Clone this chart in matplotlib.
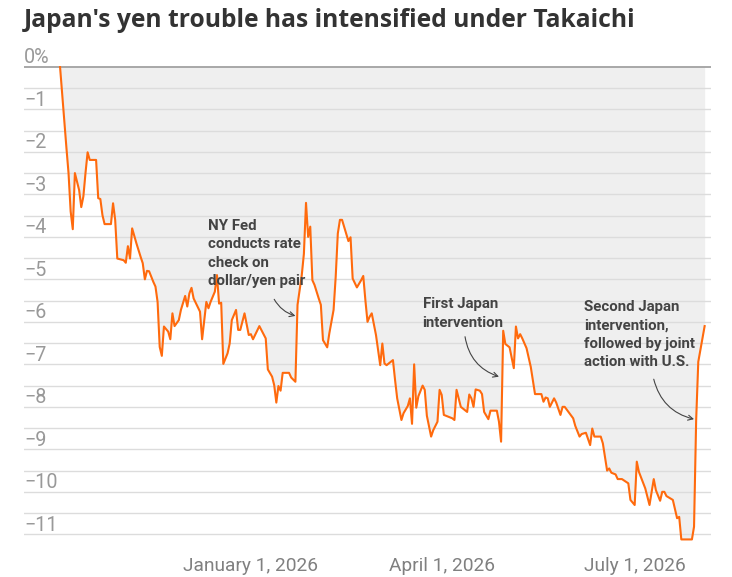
import matplotlib
matplotlib.use("Agg")
import matplotlib.pyplot as plt
import matplotlib.transforms as mtransforms
import pandas as pd
import numpy as np

# yen vs dollar, % change since Takaichi won the LDP leadership
dates = [
    "2025-10-03", "2025-10-06", "2025-10-07", "2025-10-08", "2025-10-09", "2025-10-10",
    "2025-10-12", "2025-10-13", "2025-10-14", "2025-10-15", "2025-10-16", "2025-10-17",
    "2025-10-20", "2025-10-21", "2025-10-22", "2025-10-23", "2025-10-24", "2025-10-27",
    "2025-10-28", "2025-10-29", "2025-10-30", "2025-11-02", "2025-11-03", "2025-11-04",
    "2025-11-05", "2025-11-06", "2025-11-08", "2025-11-10", "2025-11-11", "2025-11-12",
    "2025-11-13", "2025-11-14", "2025-11-16", "2025-11-17", "2025-11-18", "2025-11-19",
    "2025-11-20", "2025-11-21", "2025-11-23", "2025-11-24", "2025-11-25", "2025-11-26",
    "2025-11-28", "2025-11-29", "2025-12-01", "2025-12-02", "2025-12-03", "2025-12-04",
    "2025-12-05", "2025-12-08", "2025-12-09", "2025-12-11", "2025-12-12", "2025-12-13",
    "2025-12-15", "2025-12-16", "2025-12-17", "2025-12-18", "2025-12-19", "2025-12-21",
    "2025-12-22", "2025-12-23", "2025-12-25", "2025-12-26", "2025-12-27", "2025-12-29",
    "2025-12-31", "2026-01-01", "2026-01-02", "2026-01-05", "2026-01-08", "2026-01-09",
    "2026-01-11", "2026-01-12", "2026-01-13", "2026-01-14", "2026-01-15", "2026-01-16",
    "2026-01-19", "2026-01-20", "2026-01-22", "2026-01-23", "2026-01-24", "2026-01-25",
    "2026-01-26", "2026-01-27", "2026-01-28", "2026-01-29", "2026-01-30", "2026-01-31",
    "2026-02-02", "2026-02-03", "2026-02-04", "2026-02-06", "2026-02-07", "2026-02-09",
    "2026-02-10", "2026-02-11", "2026-02-12", "2026-02-13", "2026-02-16", "2026-02-17",
    "2026-02-18", "2026-02-20", "2026-02-22", "2026-02-23", "2026-02-24", "2026-02-25",
    "2026-02-26", "2026-02-27", "2026-03-01", "2026-03-03", "2026-03-04", "2026-03-05",
    "2026-03-06", "2026-03-09", "2026-03-10", "2026-03-11", "2026-03-13", "2026-03-14",
    "2026-03-16", "2026-03-17", "2026-03-18", "2026-03-19", "2026-03-20", "2026-03-21",
    "2026-03-23", "2026-03-24", "2026-03-25", "2026-03-27", "2026-03-28", "2026-03-30",
    "2026-03-31", "2026-04-01", "2026-04-02", "2026-04-06", "2026-04-07", "2026-04-08",
    "2026-04-10", "2026-04-12", "2026-04-13", "2026-04-14", "2026-04-15", "2026-04-16",
    "2026-04-17", "2026-04-19", "2026-04-20", "2026-04-21", "2026-04-23", "2026-04-24",
    "2026-04-27", "2026-04-28", "2026-04-29", "2026-04-30", "2026-05-01", "2026-05-03",
    "2026-05-05", "2026-05-06", "2026-05-07", "2026-05-08", "2026-05-09", "2026-05-11",
    "2026-05-13", "2026-05-15", "2026-05-18", "2026-05-19", "2026-05-20", "2026-05-21",
    "2026-05-22", "2026-05-24", "2026-05-25", "2026-05-27", "2026-05-28", "2026-05-29",
    "2026-06-02", "2026-06-03", "2026-06-05", "2026-06-06", "2026-06-08", "2026-06-10",
    "2026-06-11", "2026-06-12", "2026-06-15", "2026-06-16", "2026-06-18", "2026-06-19",
    "2026-06-20", "2026-06-22", "2026-06-23", "2026-06-25", "2026-06-28", "2026-06-29",
    "2026-07-01", "2026-07-02", "2026-07-03", "2026-07-06", "2026-07-08", "2026-07-10",
    "2026-07-11", "2026-07-13", "2026-07-14", "2026-07-15", "2026-07-16", "2026-07-19",
    "2026-07-21", "2026-07-22", "2026-07-23", "2026-07-28", "2026-07-29", "2026-07-30",
    "2026-07-31", "2026-08-01", "2026-08-03",
]
pct = [
    0.0, -1.9, -2.5, -3.4, -3.82, -2.5,
    -2.9, -3.3, -3.05, -2.5, -2.01, -2.19,
    -2.19, -3.09, -3.11, -3.49, -3.70, -3.70,
    -3.21, -3.6, -4.51, -4.55, -4.61, -4.22,
    -4.51, -3.80, -4.15, -4.47, -4.62, -5.0,
    -4.80, -4.81, -5.06, -5.17, -5.53, -6.59,
    -6.80, -6.11, -6.23, -6.41, -5.80, -6.10,
    -5.96, -5.72, -5.39, -5.64, -5.33, -5.20,
    -5.45, -5.76, -6.41, -5.53, -5.68, -5.53,
    -5.29, -4.90, -5.57, -5.55, -6.99, -6.74,
    -6.51, -5.96, -5.72, -6.19, -6.19, -5.80,
    -6.31, -6.29, -6.41, -6.10, -6.39, -7.12,
    -7.29, -7.49, -7.90, -7.51, -7.62, -7.20,
    -7.20, -7.31, -7.41, -5.6, -5.25, -4.9,
    -4.4, -3.20, -4.0, -3.76, -5.02, -5.13,
    -5.45, -5.60, -6.43, -6.60, -6.27, -5.72,
    -4.94, -3.92, -3.60, -3.60, -4.10, -4.01,
    -4.98, -5.19, -5.02, -4.92, -5.49, -6.0,
    -5.88, -5.80, -6.31, -7.02, -6.51, -6.98,
    -7.02, -6.90, -7.37, -7.80, -8.31, -8.15,
    -7.98, -7.80, -8.40, -7.0, -8.02, -7.75,
    -7.50, -7.60, -8.21, -8.70, -8.55, -8.35,
    -7.60, -7.72, -8.19, -8.27, -8.31, -7.60,
    -8.0, -8.08, -8.12, -7.71, -7.80, -8.0,
    -7.59, -7.62, -7.70, -8.12, -8.29, -8.09,
    -8.09, -8.35, -8.82, -6.21, -6.52, -6.60,
    -7.09, -6.11, -6.39, -6.29, -6.39, -6.62,
    -7.06, -7.70, -7.70, -7.88, -7.78, -7.80,
    -8.0, -7.80, -7.90, -8.19, -8.0, -8.0,
    -8.27, -8.45, -8.70, -8.64, -8.61, -8.90,
    -8.51, -8.70, -8.70, -8.86, -9.50, -9.45,
    -9.55, -9.59, -9.70, -9.70, -9.80, -10.19,
    -10.31, -9.29, -9.53, -9.92, -10.31, -9.70,
    -9.96, -10.21, -10.0, -10.0, -10.10, -10.19,
    -10.62, -10.59, -11.12, -11.12, -10.82, -8.31,
    -6.94, -6.66, -6.10,
]

tick_dates = ["2026-01-01", "2026-04-01", "2026-07-01"]
tick_labels = ["January 1, 2026", "April 1, 2026", "July 1, 2026"]
y_labels = [0, -1, -2, -3, -4, -5, -6, -7, -8, -9, -10, -11]

x = pd.to_datetime(dates)

plt.rcParams['font.family'] = ['Roboto', 'DejaVu Sans']

fig = plt.figure(figsize=(7.32, 5.77), dpi=100)
ax = fig.add_axes([24 / 732, 0.0629, 687 / 732, 0.8227])

ax.fill_between(x, pct, 0, color="#efefef", lw=0, zorder=1)
for v in np.arange(-11, 0.01, 0.5):
    if v == 0:
        ax.axhline(v, color="#9a9a9a", lw=1.2, zorder=2)
    else:
        ax.axhline(v, color="#dcdcdc", lw=1.0, zorder=2)
ax.plot(x, pct, color="#ff6a0d", lw=1.5, zorder=4)

ax.set_xlim(pd.Timestamp("2025-09-16"), pd.Timestamp("2026-08-06"))
ax.set_ylim(-11.15, 0.02)
for s in ax.spines.values():
    s.set_visible(False)
ax.set_yticks([])
ax.set_xticks(pd.to_datetime(tick_dates))
ax.set_xticklabels(tick_labels, fontsize=13.8, color="#808080")
ax.tick_params(axis="x", length=0, pad=12)

# y labels sit just above their gridlines
trans = mtransforms.blended_transform_factory(ax.transAxes, ax.transData)
for v in y_labels:
    lab = "0%" if v == 0 else "\u2212" + str(abs(v))
    ax.text(0, v + 0.08, lab, transform=trans, ha="left", va="baseline",
            fontsize=14.2, color="#999999")

fig.text(24 / 732, 1 - 27 / 577, "Japan's yen trouble has intensified under Takaichi",
         fontsize=17.7, fontweight="bold", color="#333333", va="baseline", ha="left",
         family=["Open Sans", "DejaVu Sans"])

note = dict(fontsize=10.8, fontweight="bold", color="#444444", va="top", ha="left",
            linespacing=1.4, zorder=5)
ax.text(pd.Timestamp("2025-12-12"), -3.58, "NY Fed\nconducts rate\ncheck on\ndollar/yen pair", **note)
ax.text(pd.Timestamp("2026-03-23"), -5.42, "First Japan\nintervention", **note)
ax.text(pd.Timestamp("2026-06-07"), -5.48,
        "Second Japan\nintervention,\nfollowed by joint\naction with U.S.", **note)

arrow = dict(arrowstyle="->,head_length=0.35,head_width=0.18", color="#444444", lw=0.8,
             shrinkA=0, shrinkB=0)
ax.annotate("", xy=(pd.Timestamp("2026-01-22"), -5.86), xytext=(pd.Timestamp("2026-01-12"), -5.47),
            arrowprops=dict(connectionstyle="arc3,rad=0.2", **arrow), zorder=5)
ax.annotate("", xy=(pd.Timestamp("2026-04-28"), -7.29), xytext=(pd.Timestamp("2026-04-12"), -6.35),
            arrowprops=dict(connectionstyle="arc3,rad=0.3", **arrow), zorder=5)
ax.annotate("", xy=(pd.Timestamp("2026-07-29"), -8.29), xytext=(pd.Timestamp("2026-07-10"), -7.35),
            arrowprops=dict(connectionstyle="arc3,rad=0.3", **arrow), zorder=5)

fig.savefig("out.png", dpi=100)
